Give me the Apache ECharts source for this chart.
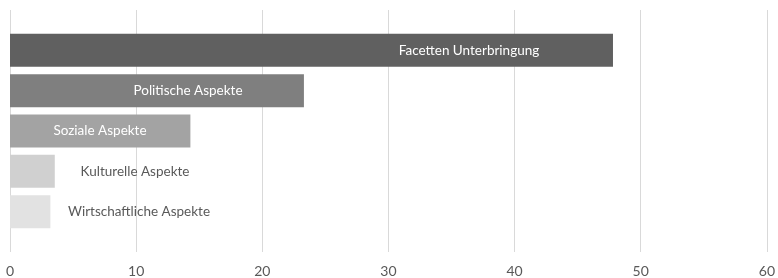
<!DOCTYPE html>
<html>
<head>
<meta charset="utf-8">
<script src="https://cdn.jsdelivr.net/npm/echarts@6/dist/echarts.min.js"></script>
<style>
  html, body { margin: 0; padding: 0; background: #fff; }
  #chart { width: 778px; height: 278px; }
</style>
</head>
<body>
<div id="chart"></div>
<script>
const categories = [
  "Facetten Unterbringung",
  "Politische Aspekte",
  "Soziale Aspekte",
  "Kulturelle Aspekte",
  "Wirtschaftliche Aspekte"
];
const values = [47.8, 23.3, 14.3, 3.55, 3.2];
const xTicks = [0, 10, 20, 30, 40, 50, 60];

// look of each bar and where its label sits (px from bar start)
const barColors = ["#606060", "#7f7f7f", "#a3a3a3", "#d0d0d0", "#e2e2e2"];
const labelColors = ["#ffffff", "#ffffff", "#ffffff", "#595959", "#595959"];
const labelX = [459, 178, 90, 125, 129];

const chart = echarts.init(document.getElementById("chart"));

// empty slot above and below so the bars sit off the plot edges
const axisCats = ["", ...categories, ""];
const barData = [null].concat(values.map((v, i) => ({
  value: v,
  itemStyle: { color: barColors[i] },
  label: {
    show: true,
    position: [labelX[i], "50%"],
    align: "center",
    verticalAlign: "middle",
    color: labelColors[i],
    fontFamily: "Lato",
    fontSize: 13.5,
    formatter: () => categories[i]
  }
}))).concat([null]);

chart.setOption({
  animation: false,
  grid: { left: 10, right: 9.5, top: 10, bottom: 26, containLabel: false },
  xAxis: {
    type: "value",
    min: xTicks[0],
    max: xTicks[xTicks.length - 1],
    interval: 10,
    axisLine: { show: false },
    axisTick: { show: false },
    splitLine: { lineStyle: { color: "#d9d9d9", width: 1 } },
    axisLabel: {
      color: "#595959",
      fontFamily: "Lato",
      fontSize: 14,
      margin: 12
    }
  },
  yAxis: {
    type: "category",
    inverse: true,
    boundaryGap: false,
    data: axisCats,
    show: false
  },
  series: [{
    type: "bar",
    barWidth: 33,
    data: barData
  }]
});

window.onresize = function () {
  chart.resize();
};
</script>
</body>
</html>
